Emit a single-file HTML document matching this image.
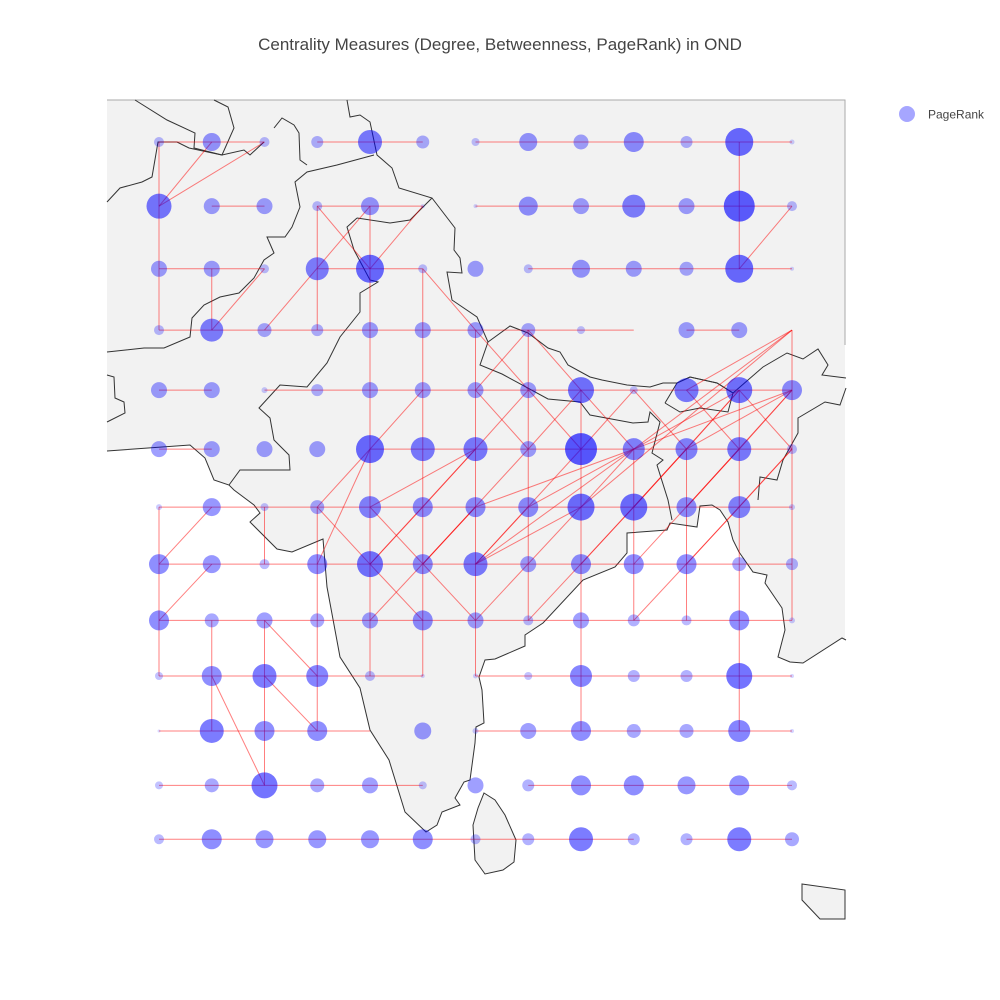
<!DOCTYPE html>
<html><head><meta charset="utf-8">
<style>
body{margin:0;background:#fff;}
svg{display:block;font-family:"Liberation Sans",sans-serif;}
</style></head>
<body>
<svg id="chart" width="1000" height="1000" viewBox="0 0 1000 1000">
  <text x="500" y="50" text-anchor="middle" font-size="17" fill="#444">Centrality Measures (Degree, Betweenness, PageRank) in OND</text>
  <g id="map"></g>
  <g id="edges"></g>
  <g id="nodes"></g>
  <g>
    <circle cx="907" cy="114" r="8" fill="rgb(0,0,255)" fill-opacity="0.35"/>
    <text x="928" y="118.5" font-size="12" fill="#444">PageRank</text>
  </g>
</svg>
<script>
// ---- data ----
const lons = [66,68,70,72,74,76,78,80,82,84,86,88,90];
const lats = [36,34,32,30,28,26,24,22,20,18,16,14,12];
// PageRank bubble sizes (relative, 0 = no node), rows = lats, cols = lons
const pagerank = [
 [10,18,10,12,24,13,8,18,15,20,12,28,5],
 [25,16,16,10,18,4,4,19,16,23,16,31,10],
 [16,16,9,23,28,9,16,9,18,16,14,28,4],
 [10,23,14,12,16,16,16,14,8,0,16,16,0],
 [16,16,6,12,16,16,16,16,26,8,24,26,20],
 [16,16,16,16,28,24,24,16,32,22,22,24,10],
 [6,18,8,14,22,20,20,20,27,27,20,22,6],
 [20,18,10,20,26,20,24,16,20,20,20,14,12],
 [20,14,16,14,16,20,16,10,16,12,10,20,6],
 [8,20,24,22,10,4,5,8,22,12,12,26,4],
 [3,24,20,20,0,17,6,16,20,14,14,22,4],
 [8,14,26,14,16,8,16,12,20,20,18,20,10],
 [10,20,18,18,18,20,10,12,24,12,12,24,14]
];
// edges: [row1,col1,row2,col2]
const edges = [
 [0,0,0,2],[0,3,0,5],[0,6,0,12],[1,1,1,2],[1,3,1,5],[1,6,1,12],
 [2,0,2,2],[2,3,2,5],[2,7,2,12],[3,0,3,9],[3,10,3,11],[4,0,4,1],[4,2,4,12],
 [5,0,5,1],[5,4,5,12],[6,0,6,12],[7,0,7,12],[8,0,8,12],[9,0,9,5],[9,6,9,12],
 [10,0,10,4],[10,6,10,12],[11,0,11,5],[11,7,11,12],[12,0,12,9],[12,10,12,12],
 [0,0,3,0],[1,3,3,3],[2,1,3,1],[1,4,9,4],[2,5,9,5],[0,11,2,11],[3,6,9,6],[3,7,8,7],
 [4,8,10,8],[5,9,8,9],[4,11,10,11],[3,12,8,12],[6,0,9,0],[8,1,10,1],[6,2,7,2],
 [8,2,11,2],[6,3,10,3],[5,10,8,10],
 [1,0,0,1],[1,0,0,2],[1,3,2,4],[1,5,2,4],[3,2,1,4],[3,1,2,2],[1,12,2,11],
 [2,5,3,6],[3,6,5,8],[4,5,5,4],[5,4,6,3],[5,4,7,3],[6,3,7,4],[6,4,8,6],[7,4,6,5],
 [8,4,6,6],[7,4,8,5],[6,4,5,6],[6,5,5,6],[6,1,7,0],[7,1,8,0],[8,2,9,3],[9,2,10,3],[9,1,11,2],
 [3,7,4,6],[3,7,4,8],[4,6,5,7],[4,7,5,6],[4,8,5,7],[4,8,5,9],[4,9,5,8],[4,9,5,10],
 [3,12,4,10],[3,12,5,9],[3,12,6,8],[4,11,5,10],[4,11,5,9],[4,11,6,9],[4,12,5,11],
 [4,12,5,10],[4,12,5,9],[4,11,5,12],[4,10,5,11],[5,9,6,7],[5,9,6,6],[5,9,7,6],[5,9,6,8],
 [5,10,6,9],[5,10,7,8],[5,11,6,10],[5,11,7,9],[5,12,6,11],[6,11,8,9],[6,8,7,6],[6,8,8,6],
 [6,9,8,7],[6,7,7,6],[5,8,7,6],[5,7,7,5],[5,6,7,4],[6,6,7,5],[4,12,6,10],[5,12,7,10]
];
// ---- axes (Mercator) ----
const R = 1511.2, Ry = 1505.0, x0 = 159, y0 = 142;
function merc(lat){return Math.log(Math.tan(Math.PI/4 + lat*Math.PI/360));}
function xScale(lon){return x0 + (lon - lons[0]) * R * Math.PI/180;}
function yScale(lat){return y0 - (merc(lat) - merc(lats[0])) * Ry;}
const NS = "http://www.w3.org/2000/svg";

// ---- base map ----
const mapG = document.getElementById('map');
function mk(tag, attrs){const e=document.createElementNS(NS,tag);for(const k in attrs)e.setAttribute(k,attrs[k]);return e;}
const frame = mk('rect',{x:107,y:100,width:738,height:819,fill:'#f2f2f2',stroke:'none'});


mapG.appendChild(frame);
const seaPts = "107,451 190,445 205,458 214,480 229,485 234,490 254,505 260,513 250,522 277,549 292,552 323,539 327,587 340,657 360,688 370,730 389,760 405,812 426,832 437,825 442,812 460,805 455,798 464,782 470,780 475,743 476,727 484,723 482,690 479,677 485,660 495,659 525,646 525,635 543,623 583,580 615,567 627,553 627,533 667,530 670,523 697,527 700,506 712,505 720,510 728,522 733,540 739,552 753,572 767,575 765,583 782,608 785,630 778,657 790,662 803,663 842,638 846,640 846,920 107,920";
const sea = mk('polygon',{points:seaPts,fill:'#fff',stroke:'none'});


mapG.appendChild(sea);
const topEdge = mk('polyline',{points:'107,100 845,100 845,345',fill:'none',stroke:'#aaa','stroke-width':1});


mapG.appendChild(topEdge);
const coast = mk('polyline',{points:seaPts.split(' ').slice(0,-2).join(' '),fill:'none',stroke:'#333','stroke-width':1});


mapG.appendChild(coast);
const islands = ["484,793 495,800 505,815 516,840 514,862 503,870 485,874 475,860 473,825 478,808","802,884 845,890 845,919 820,919 802,900"];
islands.forEach(p=>{const e=mk('polygon',{points:p,fill:'#f2f2f2',stroke:'#333','stroke-width':1});
 
 
 mapG.appendChild(e);});
const borders = [
 "347,100 350,117 360,115 370,122 377,155 392,168 399,188 432,198 455,228 454,250 460,258 462,273 447,272 452,300 477,317 488,342 510,326 528,333 548,348 560,352 568,365 590,377 602,380 627,385 650,387 663,383 677,383 690,377 717,383 733,393 763,367 787,353 803,359 818,349 828,365 822,375 846,378",
 "488,342 480,365 502,374 548,399 580,402 590,415 633,423 648,422 650,412 660,422 652,453 663,460 657,465 668,500 672,520",
 "665,403 677,383 690,377 717,383 733,393 728,412 700,408 680,412 665,403",
 "846,388 840,405 825,402 798,418 798,433 783,460 777,480 760,477 758,500",
 "107,202 120,188 142,182 152,177 158,142 177,142 189,148 222,155 234,128 228,107 214,100",
 "135,100 167,120 195,133 194,148 222,155 244,150 250,155 264,142",
 "107,352 144,348 164,348 190,337 192,318 204,305 220,297 239,293 254,278 264,260 274,253 267,237 285,237 292,227 300,207 295,182 307,172 337,165 374,155",
 "274,128 282,118 294,125 299,133 300,160 307,165",
 "107,375 114,377 115,398 124,402 125,413 107,422",
 "357,218 347,227 354,250 370,280 378,282 360,293 360,312 340,337 327,363 307,387 280,385 259,408 270,418 274,440 289,455 290,470 240,470 229,485",
 "357,218 390,223 410,220 432,198"
];
borders.forEach(p=>{const e=mk('polyline',{points:p,fill:'none',stroke:'#333','stroke-width':1});
 
 
 mapG.appendChild(e);});

// ---- edges ----
const eg = document.getElementById('edges');
edges.forEach(([r1,c1,r2,c2])=>{
 const l = mk('line',{x1:xScale(lons[c1]),y1:yScale(lats[r1]),x2:xScale(lons[c2]),y2:yScale(lats[r2]),stroke:'#ff0000','stroke-opacity':0.5,'stroke-width':1});
 
 
 eg.appendChild(l);
});

// ---- nodes ----
const ng = document.getElementById('nodes');
pagerank.forEach((row,ri)=>row.forEach((v,ci)=>{
 if(!v) return;
 const c = mk('circle',{cx:xScale(lons[ci]),cy:yScale(lats[ri]),r:v/2,fill:'rgb(0,0,255)','fill-opacity':(0.1+0.55*v/32).toFixed(3)});
 
 
 ng.appendChild(c);
}));
</script>
</body></html>
